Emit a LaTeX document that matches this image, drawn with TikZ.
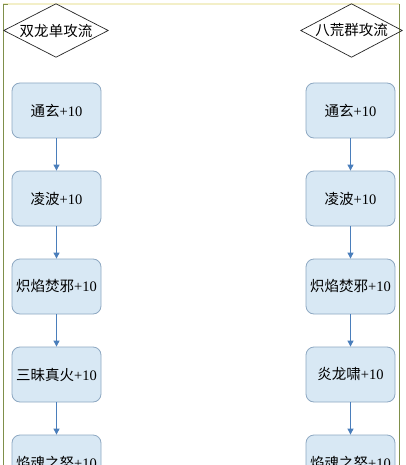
\documentclass[tikz,border=0pt]{standalone}
\usepackage{fontspec}
\setmainfont{Liberation Serif}
\newfontfamily\cjk{Noto Sans CJK SC}
\usetikzlibrary{arrows.meta}
\definecolor{boxfill}{HTML}{D8E8F4}
\definecolor{boxline}{HTML}{8DA8C2}
\definecolor{arrowc}{HTML}{4A7EBB}
\definecolor{framec}{HTML}{7F8F4A}
\definecolor{topc}{HTML}{F3EFC8}
\tikzset{
  skillbox/.style={draw=boxline, fill=boxfill, rounded corners=8pt, line width=0.8pt,
    minimum width=89pt, minimum height=55pt, inner sep=0pt, font=\fontsize{14.5}{16}\selectfont},
  headnode/.style={minimum width=104pt, minimum height=53pt, inner sep=0pt, font=\fontsize{14.5}{16}\selectfont},
  flowarrow/.style={draw=arrowc, line width=0.9pt, -{Triangle[length=6pt,width=6pt]}},
  diamondline/.style={draw=black!85, line width=0.7pt}
}
\begin{document}
\begin{tikzpicture}[x=1pt,y=-1pt]
\useasboundingbox (0,0) rectangle (406,465);
\clip (0,0) rectangle (406,465);
\fill[white] (0,0) rectangle (406,465);
% frame
\draw[topc, line width=1.5pt] (3,4) -- (399,4);
\draw[framec, line width=0.8pt] (3,4) -- (3,470);
\draw[framec, line width=0.8pt] (399,4) -- (399,470);
\draw[framec, line width=0.8pt] (3,4) -- (8,4);
% headers
\node[headnode] (h1) at (56,30.5) {{\cjk 双龙单攻流}};
\node[headnode, minimum width=101pt] (h2) at (351.5,30.5) {{\cjk 八荒群攻流}};
\draw[diamondline] (h1.north) -- (h1.east) -- (h1.south) -- (h1.west) -- cycle;
\draw[diamondline] (h2.north) -- (h2.east) -- (h2.south) -- (h2.west) -- cycle;
% left column
\node[skillbox] (a1) at (56.5,110.5) {{\cjk 通玄}+10};
\node[skillbox] (a2) at (56.5,198.5) {{\cjk 凌波}+10};
\node[skillbox] (a3) at (56.5,286.5) {{\cjk 炽焰焚邪}+10};
\node[skillbox] (a4) at (56.5,374.5) {{\cjk 三昧真火}+10};
\node[skillbox] (a5) at (56.5,462.5) {{\cjk 焰魂之怒}+10};
% right column
\node[skillbox] (b1) at (350.5,110.5) {{\cjk 通玄}+10};
\node[skillbox] (b2) at (350.5,198.5) {{\cjk 凌波}+10};
\node[skillbox] (b3) at (350.5,286.5) {{\cjk 炽焰焚邪}+10};
\node[skillbox] (b4) at (350.5,374.5) {{\cjk 炎龙啸}+10};
\node[skillbox] (b5) at (350.5,462.5) {{\cjk 焰魂之怒}+10};
% arrows
\foreach \p/\q in {a1/a2,a2/a3,a3/a4,a4/a5,b1/b2,b2/b3,b3/b4,b4/b5}
  \draw[flowarrow] (\p.south) -- (\q.north);
\end{tikzpicture}
\end{document}
